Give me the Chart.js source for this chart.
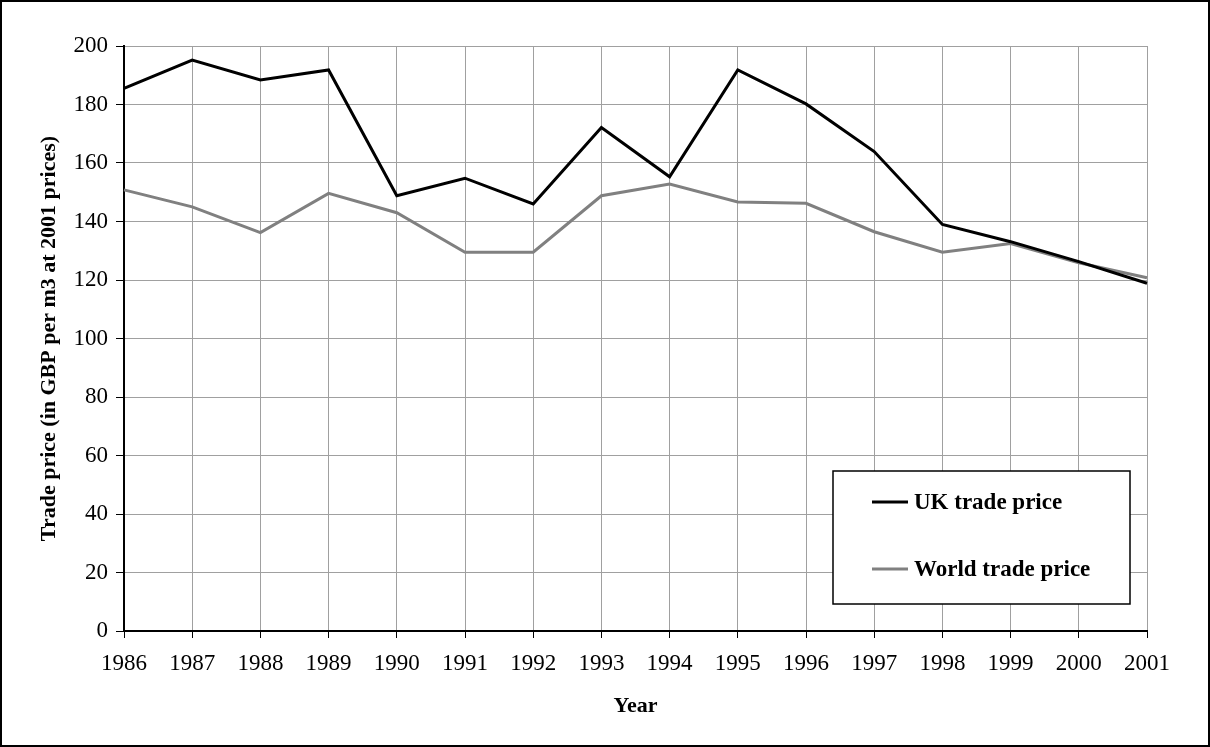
<!DOCTYPE html>
<html>
<head>
<meta charset="utf-8">
<script src="https://cdn.jsdelivr.net/npm/chart.js@4/dist/chart.umd.min.js"></script>
<style>
  body { margin: 0; background: #fff; }
  canvas { display: block; }
</style>
</head>
<body>
<canvas id="priceChart" width="1210" height="747"></canvas>
<script>
const years = ['1986', '1987', '1988', '1989', '1990', '1991', '1992', '1993',
  '1994', '1995', '1996', '1997', '1998', '1999', '2000', '2001'];
const ukPrice = [185.5, 195.2, 188.4, 191.8, 148.8, 154.8, 146.0, 172.1,
  155.3, 191.8, 180.2, 163.9, 139.0, 133.1, 126.3, 118.9];
const worldPrice = [150.8, 145.0, 136.2, 149.6, 143.0, 129.5, 129.5, 148.8,
  152.8, 146.7, 146.2, 136.5, 129.5, 132.5, 125.9, 120.8];
const yTicks = [0, 20, 40, 60, 80, 100, 120, 140, 160, 180, 200];

const serif = "'Liberation Serif', 'Times New Roman', serif";

// frame round the whole picture + legend box inside the plot
const framePlugin = {
  id: 'frame',
  afterDraw(chart) {
    const ctx = chart.ctx;
    ctx.save();
    ctx.strokeStyle = '#000';
    ctx.lineWidth = 2;
    ctx.strokeRect(1, 1, chart.width - 2, chart.height - 2);

    // legend
    const bx = 833, by = 471, bw = 297, bh = 133;
    ctx.fillStyle = '#fff';
    ctx.fillRect(bx, by, bw, bh);
    ctx.lineWidth = 1.5;
    ctx.strokeRect(bx, by, bw, bh);
    ctx.font = 'bold 23px ' + serif;
    ctx.textBaseline = 'middle';
    const rows = [502, 569];
    chart.data.datasets.forEach((ds, i) => {
      const y = rows[i];
      ctx.strokeStyle = ds.borderColor;
      ctx.lineWidth = 3;
      ctx.beginPath();
      ctx.moveTo(872, y);
      ctx.lineTo(908, y);
      ctx.stroke();
      ctx.fillStyle = '#000';
      ctx.fillText(ds.label, 914, y + 1);
    });
    ctx.restore();
  }
};

new Chart(document.getElementById('priceChart'), {
  type: 'line',
  data: {
    labels: years,
    datasets: [{
      label: 'UK trade price',
      data: ukPrice,
      borderColor: '#000000',
      borderWidth: 3,
      tension: 0,
      pointRadius: 0,
      fill: false
    }, {
      label: 'World trade price',
      data: worldPrice,
      borderColor: '#808080',
      borderWidth: 3,
      tension: 0,
      pointRadius: 0,
      fill: false
    }]
  },
  options: {
    responsive: false,
    animation: false,
    layout: { padding: { top: 46, right: 63, left: 0, bottom: 0 } },
    plugins: {
      legend: { display: false },
      tooltip: { enabled: false }
    },
    scales: {
      x: {
        offset: false,
        afterFit: (scale) => { scale.height = 116; },
        grid: { color: '#a0a0a0', lineWidth: 1, tickColor: '#000', tickLength: 7, offset: false },
        border: { color: '#000', width: 2 },
        ticks: { color: '#000', font: { family: serif, size: 23 }, padding: 12, maxRotation: 0, autoSkip: false },
        title: {
          display: true,
          text: 'Year',
          color: '#000',
          font: { family: serif, size: 22, weight: 'bold' },
          padding: { bottom: 27 }
        }
      },
      y: {
        min: 0,
        max: 200,
        afterFit: (scale) => { scale.width = 124; },
        afterBuildTicks: (scale) => { scale.ticks = yTicks.map(v => ({ value: v })); },
        grid: { color: '#a0a0a0', lineWidth: 1, tickColor: '#000', tickLength: 8 },
        border: { color: '#000', width: 2 },
        ticks: { color: '#000', font: { family: serif, size: 23 }, padding: 8 },
        title: {
          display: true,
          text: 'Trade price (in GBP per m3 at 2001 prices)',
          color: '#000',
          font: { family: serif, size: 22, weight: 'bold' },
          padding: { top: 36 }
        }
      }
    }
  },
  plugins: [framePlugin]
});
</script>
</body>
</html>
